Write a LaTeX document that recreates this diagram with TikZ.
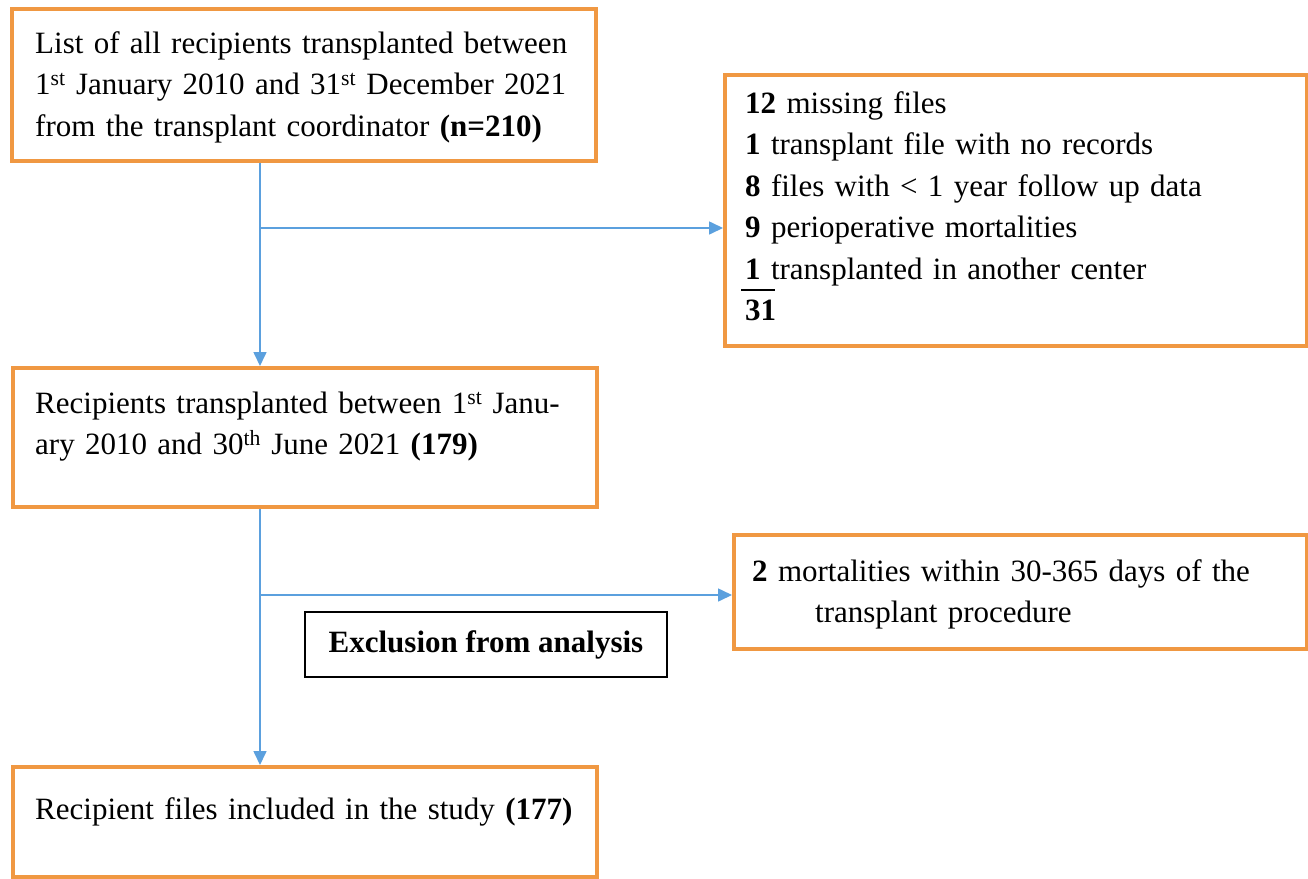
\documentclass[tikz,border=0pt]{standalone}
\usepackage{fontspec}
\setmainfont{Liberation Serif}
\usetikzlibrary{arrows.meta}
\definecolor{orng}{RGB}{240,152,66}
\definecolor{arrblue}{RGB}{91,160,222}
\begin{document}
\begin{tikzpicture}[x=1pt,y=-1pt,
  box/.style={draw=orng, line width=3.5pt, rectangle, inner sep=0pt, anchor=north west},
  txt/.style={anchor=north west, inner sep=0pt, align=left, text width=560pt, font=\fontsize{31}{41.5}\selectfont},
  arr/.style={draw=arrblue, line width=1.6pt, -{Triangle[length=14pt,width=13pt]}},
  exbox/.style={draw=black, line width=1.2pt, rectangle, inner sep=0pt, minimum width=362pt, minimum height=65pt, font=\fontsize{31}{41.5}\selectfont\bfseries}
]
\useasboundingbox (0,0) rectangle (1308,878);
\fill[white] (0,0) rectangle (1308,878);

% boxes
\node[box, minimum width=584pt, minimum height=152pt] (b1) at (10,7) {};
\node[box, minimum width=582pt, minimum height=271pt] (b2) at (723,73) {};
\node[box, minimum width=584pt, minimum height=139pt] (b3) at (11,366) {};
\node[box, minimum width=573pt, minimum height=114pt] (b4) at (732,533) {};
\node[box, minimum width=584pt, minimum height=110pt] (b5) at (11,765) {};
\node[exbox] (ex) at (486,644.5) {Exclusion from analysis};

% texts
\node[txt] (t1) at (35,25) {\rule{0pt}{28pt}\makebox[543pt][s]{List of all recipients transplanted between}\\
\makebox[543pt][s]{1\textsuperscript{st} January 2010 and 31\textsuperscript{st} December 2021}\\
from the transplant coordinator \textbf{(n=210)}};

\node[txt] (t2) at (745,85) {\rule{0pt}{28pt}\textbf{12} missing files\\
\textbf{1} transplant file with no records\\
\textbf{8} files with < 1 year follow up data\\
\textbf{9} perioperative mortalities\\
\textbf{1} transplanted in another center\\
\makebox[0pt][l]{\hspace*{-4pt}\rule[30pt]{34pt}{2pt}}\textbf{31}};

\node[txt] (t3) at (35,385) {\rule{0pt}{28pt}\makebox[543pt][s]{Recipients transplanted between 1\textsuperscript{st} Janu-}\\
ary 2010 and 30\textsuperscript{th} June 2021 \textbf{(179)}};

\node[txt] (t4) at (752,553) {\rule{0pt}{28pt}\textbf{2} mortalities within 30-365 days of the\\
\hspace*{63pt}transplant procedure};

\node[txt] (t5) at (35,791) {\rule{0pt}{28pt}Recipient files included in the study \textbf{(177)}};

% connectors
\coordinate (j1) at (260,228);
\coordinate (j2) at (260,595);
\draw[arrblue, line width=1.6pt] (b1.south -| j1) -- (j1);
\draw[arr] (j1) -- (b3.north -| j1);
\draw[arr] (j1) -- (b2.west |- j1);
\draw[arrblue, line width=1.6pt] (b3.south -| j2) -- (j2);
\draw[arr] (j2) -- (b5.north -| j2);
\draw[arr] (j2) -- (b4.west |- j2);
\end{tikzpicture}
\end{document}
